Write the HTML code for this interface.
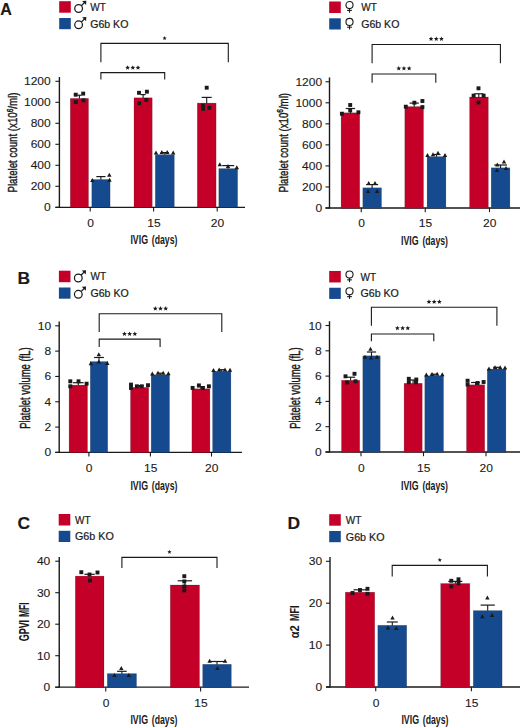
<!DOCTYPE html>
<html><head><meta charset="utf-8"><style>
html,body{margin:0;padding:0;background:#fff;}
body{width:520px;height:728px;overflow:hidden;}
svg{display:block;font-family:"Liberation Sans", sans-serif;}
text{fill:#1a1a1a;}
</style></head><body>
<svg width="520" height="728" viewBox="0 0 520 728">
<text x="0.30" y="14.60" font-size="16.4" text-anchor="start" font-weight="bold" textLength="11.6" lengthAdjust="spacingAndGlyphs" stroke="#1a1a1a" stroke-width="0.15" >A</text>
<rect x="59.20" y="1.20" width="11.60" height="11.50" fill="#c40028"/>
<rect x="59.20" y="18.00" width="11.60" height="11.20" fill="#164a8f"/>
<circle cx="78.6" cy="8.5" r="3.85" fill="none" stroke="#1a1a1a" stroke-width="1.25"/>
<line x1="81.30" y1="5.80" x2="85.20" y2="1.90" stroke="#1a1a1a" stroke-width="1.25"/>
<polygon points="86.30,0.80 82.10,1.00 86.10,5.00" fill="#1a1a1a"/>
<circle cx="78.6" cy="24.8" r="3.85" fill="none" stroke="#1a1a1a" stroke-width="1.25"/>
<line x1="81.30" y1="22.10" x2="85.20" y2="18.20" stroke="#1a1a1a" stroke-width="1.25"/>
<polygon points="86.30,17.10 82.10,17.30 86.10,21.30" fill="#1a1a1a"/>
<text x="90.20" y="10.80" font-size="10" text-anchor="start" font-weight="normal" stroke="#1a1a1a" stroke-width="0.2" >WT</text>
<text x="90.20" y="27.60" font-size="10" text-anchor="start" font-weight="normal" textLength="38.2" lengthAdjust="spacingAndGlyphs" stroke="#1a1a1a" stroke-width="0.2" >G6b KO</text>
<line x1="59.40" y1="77.00" x2="59.40" y2="207.80" stroke="#1a1a1a" stroke-width="1.4"/>
<line x1="55.40" y1="207.30" x2="245.00" y2="207.30" stroke="#1a1a1a" stroke-width="1.3"/>
<line x1="55.40" y1="207.30" x2="59.40" y2="207.30" stroke="#1a1a1a" stroke-width="1.1"/>
<text x="50.70" y="211.30" font-size="10" text-anchor="end" font-weight="normal" textLength="6.67" lengthAdjust="spacingAndGlyphs" stroke="#1a1a1a" stroke-width="0.1" >0</text>
<line x1="55.40" y1="186.30" x2="59.40" y2="186.30" stroke="#1a1a1a" stroke-width="1.1"/>
<text x="50.70" y="190.30" font-size="10" text-anchor="end" font-weight="normal" textLength="20.02" lengthAdjust="spacingAndGlyphs" stroke="#1a1a1a" stroke-width="0.1" >200</text>
<line x1="55.40" y1="165.30" x2="59.40" y2="165.30" stroke="#1a1a1a" stroke-width="1.1"/>
<text x="50.70" y="169.30" font-size="10" text-anchor="end" font-weight="normal" textLength="20.02" lengthAdjust="spacingAndGlyphs" stroke="#1a1a1a" stroke-width="0.1" >400</text>
<line x1="55.40" y1="144.30" x2="59.40" y2="144.30" stroke="#1a1a1a" stroke-width="1.1"/>
<text x="50.70" y="148.30" font-size="10" text-anchor="end" font-weight="normal" textLength="20.02" lengthAdjust="spacingAndGlyphs" stroke="#1a1a1a" stroke-width="0.1" >600</text>
<line x1="55.40" y1="123.30" x2="59.40" y2="123.30" stroke="#1a1a1a" stroke-width="1.1"/>
<text x="50.70" y="127.30" font-size="10" text-anchor="end" font-weight="normal" textLength="20.02" lengthAdjust="spacingAndGlyphs" stroke="#1a1a1a" stroke-width="0.1" >800</text>
<line x1="55.40" y1="102.30" x2="59.40" y2="102.30" stroke="#1a1a1a" stroke-width="1.1"/>
<text x="50.70" y="106.30" font-size="10" text-anchor="end" font-weight="normal" textLength="26.69" lengthAdjust="spacingAndGlyphs" stroke="#1a1a1a" stroke-width="0.1" >1000</text>
<line x1="55.40" y1="81.30" x2="59.40" y2="81.30" stroke="#1a1a1a" stroke-width="1.1"/>
<text x="50.70" y="85.30" font-size="10" text-anchor="end" font-weight="normal" textLength="26.69" lengthAdjust="spacingAndGlyphs" stroke="#1a1a1a" stroke-width="0.1" >1200</text>
<line x1="90.20" y1="207.30" x2="90.20" y2="211.50" stroke="#1a1a1a" stroke-width="1.1"/>
<text x="90.50" y="226.90" font-size="10" text-anchor="middle" font-weight="normal" textLength="6.67" lengthAdjust="spacingAndGlyphs" stroke="#1a1a1a" stroke-width="0.1" >0</text>
<line x1="153.60" y1="207.30" x2="153.60" y2="211.50" stroke="#1a1a1a" stroke-width="1.1"/>
<text x="153.90" y="226.90" font-size="10" text-anchor="middle" font-weight="normal" textLength="13.34" lengthAdjust="spacingAndGlyphs" stroke="#1a1a1a" stroke-width="0.1" >15</text>
<line x1="217.20" y1="207.30" x2="217.20" y2="211.50" stroke="#1a1a1a" stroke-width="1.1"/>
<text x="217.50" y="226.90" font-size="10" text-anchor="middle" font-weight="normal" textLength="13.34" lengthAdjust="spacingAndGlyphs" stroke="#1a1a1a" stroke-width="0.1" >20</text>
<rect x="70.30" y="98.40" width="18.20" height="109.20" fill="#c40028" stroke="#000" stroke-opacity="0.25" stroke-width="0.6"/>
<rect x="91.80" y="179.50" width="18.30" height="28.10" fill="#164a8f" stroke="#000" stroke-opacity="0.25" stroke-width="0.6"/>
<rect x="134.00" y="97.80" width="18.20" height="109.80" fill="#c40028" stroke="#000" stroke-opacity="0.25" stroke-width="0.6"/>
<rect x="155.30" y="154.60" width="19.00" height="53.00" fill="#164a8f" stroke="#000" stroke-opacity="0.25" stroke-width="0.6"/>
<rect x="197.30" y="103.10" width="18.80" height="104.50" fill="#c40028" stroke="#000" stroke-opacity="0.25" stroke-width="0.6"/>
<rect x="218.80" y="168.60" width="18.80" height="39.00" fill="#164a8f" stroke="#000" stroke-opacity="0.25" stroke-width="0.6"/>
<text transform="translate(16.90,142.50) rotate(-90)" x="0" y="0" font-size="12.5" font-weight="normal" text-anchor="middle" textLength="100.00" lengthAdjust="spacingAndGlyphs" stroke="#1a1a1a" stroke-width="0.4">Platelet count (x10<tspan font-size="8.5" dy="-4.2">6</tspan><tspan dy="4.2">/ml)</tspan></text>
<text x="130.40" y="244.20" font-size="13.3" text-anchor="start" font-weight="bold" textLength="17.6" lengthAdjust="spacingAndGlyphs" >IVIG</text>
<text x="151.80" y="244.20" font-size="13.3" text-anchor="start" font-weight="bold" textLength="25.6" lengthAdjust="spacingAndGlyphs" >(days)</text>
<polyline points="100.9,62.3 100.9,43.4 228.3,43.4 228.3,62.3" fill="none" stroke="#1a1a1a" stroke-width="1.1"/>
<polygon points="164.60,36.10 165.18,37.50 166.69,37.62 165.54,38.61 165.89,40.08 164.60,39.29 163.31,40.08 163.66,38.61 162.51,37.62 164.02,37.50" fill="#1a1a1a"/>
<polyline points="100.9,79.6 100.9,72.6 164.7,72.6 164.7,79.6" fill="none" stroke="#1a1a1a" stroke-width="1.1"/>
<polygon points="127.60,65.20 128.26,66.79 129.98,66.93 128.67,68.05 129.07,69.72 127.60,68.83 126.13,69.72 126.53,68.05 125.22,66.93 126.94,66.79" fill="#1a1a1a"/>
<polygon points="132.80,65.20 133.46,66.79 135.18,66.93 133.87,68.05 134.27,69.72 132.80,68.83 131.33,69.72 131.73,68.05 130.42,66.93 132.14,66.79" fill="#1a1a1a"/>
<polygon points="138.00,65.20 138.66,66.79 140.38,66.93 139.07,68.05 139.47,69.72 138.00,68.83 136.53,69.72 136.93,68.05 135.62,66.93 137.34,66.79" fill="#1a1a1a"/>
<rect x="329.20" y="1.50" width="11.60" height="11.50" fill="#c40028"/>
<rect x="329.20" y="18.30" width="11.60" height="11.20" fill="#164a8f"/>
<circle cx="349.5" cy="5.1" r="3.55" fill="none" stroke="#1a1a1a" stroke-width="1.1"/>
<line x1="349.50" y1="8.60" x2="349.50" y2="12.70" stroke="#1a1a1a" stroke-width="1.1"/>
<line x1="347.10" y1="10.40" x2="351.90" y2="10.40" stroke="#1a1a1a" stroke-width="1.1"/>
<circle cx="349.5" cy="21.9" r="3.55" fill="none" stroke="#1a1a1a" stroke-width="1.1"/>
<line x1="349.50" y1="25.40" x2="349.50" y2="29.50" stroke="#1a1a1a" stroke-width="1.1"/>
<line x1="347.10" y1="27.20" x2="351.90" y2="27.20" stroke="#1a1a1a" stroke-width="1.1"/>
<text x="361.20" y="11.10" font-size="10" text-anchor="start" font-weight="normal" stroke="#1a1a1a" stroke-width="0.2" >WT</text>
<text x="361.20" y="27.90" font-size="10" text-anchor="start" font-weight="normal" textLength="38.2" lengthAdjust="spacingAndGlyphs" stroke="#1a1a1a" stroke-width="0.2" >G6b KO</text>
<line x1="329.50" y1="77.46" x2="329.50" y2="208.50" stroke="#1a1a1a" stroke-width="1.4"/>
<line x1="325.50" y1="208.00" x2="520.00" y2="208.00" stroke="#1a1a1a" stroke-width="1.3"/>
<line x1="325.50" y1="208.00" x2="329.50" y2="208.00" stroke="#1a1a1a" stroke-width="1.1"/>
<text x="322.10" y="212.00" font-size="10" text-anchor="end" font-weight="normal" textLength="6.67" lengthAdjust="spacingAndGlyphs" stroke="#1a1a1a" stroke-width="0.1" >0</text>
<line x1="325.50" y1="186.96" x2="329.50" y2="186.96" stroke="#1a1a1a" stroke-width="1.1"/>
<text x="322.10" y="190.96" font-size="10" text-anchor="end" font-weight="normal" textLength="20.02" lengthAdjust="spacingAndGlyphs" stroke="#1a1a1a" stroke-width="0.1" >200</text>
<line x1="325.50" y1="165.92" x2="329.50" y2="165.92" stroke="#1a1a1a" stroke-width="1.1"/>
<text x="322.10" y="169.92" font-size="10" text-anchor="end" font-weight="normal" textLength="20.02" lengthAdjust="spacingAndGlyphs" stroke="#1a1a1a" stroke-width="0.1" >400</text>
<line x1="325.50" y1="144.88" x2="329.50" y2="144.88" stroke="#1a1a1a" stroke-width="1.1"/>
<text x="322.10" y="148.88" font-size="10" text-anchor="end" font-weight="normal" textLength="20.02" lengthAdjust="spacingAndGlyphs" stroke="#1a1a1a" stroke-width="0.1" >600</text>
<line x1="325.50" y1="123.84" x2="329.50" y2="123.84" stroke="#1a1a1a" stroke-width="1.1"/>
<text x="322.10" y="127.84" font-size="10" text-anchor="end" font-weight="normal" textLength="20.02" lengthAdjust="spacingAndGlyphs" stroke="#1a1a1a" stroke-width="0.1" >800</text>
<line x1="325.50" y1="102.80" x2="329.50" y2="102.80" stroke="#1a1a1a" stroke-width="1.1"/>
<text x="322.10" y="106.80" font-size="10" text-anchor="end" font-weight="normal" textLength="26.69" lengthAdjust="spacingAndGlyphs" stroke="#1a1a1a" stroke-width="0.1" >1000</text>
<line x1="325.50" y1="81.76" x2="329.50" y2="81.76" stroke="#1a1a1a" stroke-width="1.1"/>
<text x="322.10" y="85.76" font-size="10" text-anchor="end" font-weight="normal" textLength="26.69" lengthAdjust="spacingAndGlyphs" stroke="#1a1a1a" stroke-width="0.1" >1200</text>
<line x1="361.25" y1="208.00" x2="361.25" y2="212.20" stroke="#1a1a1a" stroke-width="1.1"/>
<text x="361.55" y="227.10" font-size="10" text-anchor="middle" font-weight="normal" textLength="6.67" lengthAdjust="spacingAndGlyphs" stroke="#1a1a1a" stroke-width="0.1" >0</text>
<line x1="425.25" y1="208.00" x2="425.25" y2="212.20" stroke="#1a1a1a" stroke-width="1.1"/>
<text x="425.55" y="227.10" font-size="10" text-anchor="middle" font-weight="normal" textLength="13.34" lengthAdjust="spacingAndGlyphs" stroke="#1a1a1a" stroke-width="0.1" >15</text>
<line x1="489.50" y1="208.00" x2="489.50" y2="212.20" stroke="#1a1a1a" stroke-width="1.1"/>
<text x="489.80" y="227.10" font-size="10" text-anchor="middle" font-weight="normal" textLength="13.34" lengthAdjust="spacingAndGlyphs" stroke="#1a1a1a" stroke-width="0.1" >20</text>
<rect x="341.10" y="112.80" width="18.60" height="95.50" fill="#c40028" stroke="#000" stroke-opacity="0.25" stroke-width="0.6"/>
<rect x="362.80" y="187.80" width="18.70" height="20.50" fill="#164a8f" stroke="#000" stroke-opacity="0.25" stroke-width="0.6"/>
<rect x="404.80" y="106.60" width="18.70" height="101.70" fill="#c40028" stroke="#000" stroke-opacity="0.25" stroke-width="0.6"/>
<rect x="427.10" y="156.60" width="18.80" height="51.70" fill="#164a8f" stroke="#000" stroke-opacity="0.25" stroke-width="0.6"/>
<rect x="469.60" y="97.00" width="18.70" height="111.30" fill="#c40028" stroke="#000" stroke-opacity="0.25" stroke-width="0.6"/>
<rect x="491.20" y="167.80" width="18.70" height="40.50" fill="#164a8f" stroke="#000" stroke-opacity="0.25" stroke-width="0.6"/>
<text transform="translate(287.60,142.75) rotate(-90)" x="0" y="0" font-size="12.5" font-weight="normal" text-anchor="middle" textLength="99.50" lengthAdjust="spacingAndGlyphs" stroke="#1a1a1a" stroke-width="0.4">Platelet count (x10<tspan font-size="8.5" dy="-4.2">6</tspan><tspan dy="4.2">/ml)</tspan></text>
<text x="401.00" y="245.20" font-size="13.3" text-anchor="start" font-weight="bold" textLength="17.6" lengthAdjust="spacingAndGlyphs" >IVIG</text>
<text x="422.40" y="245.20" font-size="13.3" text-anchor="start" font-weight="bold" textLength="25.6" lengthAdjust="spacingAndGlyphs" >(days)</text>
<polyline points="372.1,63.3 372.1,44.5 500.4,44.5 500.4,63.3" fill="none" stroke="#1a1a1a" stroke-width="1.1"/>
<polygon points="431.05,36.50 431.71,38.09 433.43,38.23 432.12,39.35 432.52,41.02 431.05,40.12 429.58,41.02 429.98,39.35 428.67,38.23 430.39,38.09" fill="#1a1a1a"/>
<polygon points="436.25,36.50 436.91,38.09 438.63,38.23 437.32,39.35 437.72,41.02 436.25,40.12 434.78,41.02 435.18,39.35 433.87,38.23 435.59,38.09" fill="#1a1a1a"/>
<polygon points="441.45,36.50 442.11,38.09 443.83,38.23 442.52,39.35 442.92,41.02 441.45,40.12 439.98,41.02 440.38,39.35 439.07,38.23 440.79,38.09" fill="#1a1a1a"/>
<polyline points="372.1,82.8 372.1,74.0 435.8,74.0 435.8,82.8" fill="none" stroke="#1a1a1a" stroke-width="1.1"/>
<polygon points="398.75,66.00 399.41,67.59 401.13,67.73 399.82,68.85 400.22,70.52 398.75,69.62 397.28,70.52 397.68,68.85 396.37,67.73 398.09,67.59" fill="#1a1a1a"/>
<polygon points="403.95,66.00 404.61,67.59 406.33,67.73 405.02,68.85 405.42,70.52 403.95,69.62 402.48,70.52 402.88,68.85 401.57,67.73 403.29,67.59" fill="#1a1a1a"/>
<polygon points="409.15,66.00 409.81,67.59 411.53,67.73 410.22,68.85 410.62,70.52 409.15,69.62 407.68,70.52 408.08,68.85 406.77,67.73 408.49,67.59" fill="#1a1a1a"/>
<text x="17.60" y="283.80" font-size="16.4" text-anchor="start" font-weight="bold" textLength="12.6" lengthAdjust="spacingAndGlyphs" stroke="#1a1a1a" stroke-width="0.15" >B</text>
<rect x="58.90" y="270.70" width="11.60" height="11.50" fill="#c40028"/>
<rect x="58.90" y="287.50" width="11.60" height="11.20" fill="#164a8f"/>
<circle cx="78.30000000000001" cy="278.0" r="3.85" fill="none" stroke="#1a1a1a" stroke-width="1.25"/>
<line x1="81.00" y1="275.30" x2="84.90" y2="271.40" stroke="#1a1a1a" stroke-width="1.25"/>
<polygon points="86.00,270.30 81.80,270.50 85.80,274.50" fill="#1a1a1a"/>
<circle cx="78.30000000000001" cy="294.3" r="3.85" fill="none" stroke="#1a1a1a" stroke-width="1.25"/>
<line x1="81.00" y1="291.60" x2="84.90" y2="287.70" stroke="#1a1a1a" stroke-width="1.25"/>
<polygon points="86.00,286.60 81.80,286.80 85.80,290.80" fill="#1a1a1a"/>
<text x="90.50" y="280.30" font-size="10" text-anchor="start" font-weight="normal" stroke="#1a1a1a" stroke-width="0.2" >WT</text>
<text x="90.50" y="297.10" font-size="10" text-anchor="start" font-weight="normal" textLength="38.2" lengthAdjust="spacingAndGlyphs" stroke="#1a1a1a" stroke-width="0.2" >G6b KO</text>
<line x1="59.20" y1="321.50" x2="59.20" y2="452.90" stroke="#1a1a1a" stroke-width="1.4"/>
<line x1="55.20" y1="452.40" x2="242.00" y2="452.40" stroke="#1a1a1a" stroke-width="1.3"/>
<line x1="55.20" y1="452.40" x2="59.20" y2="452.40" stroke="#1a1a1a" stroke-width="1.1"/>
<text x="51.10" y="456.40" font-size="10" text-anchor="end" font-weight="normal" textLength="6.67" lengthAdjust="spacingAndGlyphs" stroke="#1a1a1a" stroke-width="0.1" >0</text>
<line x1="55.20" y1="427.08" x2="59.20" y2="427.08" stroke="#1a1a1a" stroke-width="1.1"/>
<text x="51.10" y="431.08" font-size="10" text-anchor="end" font-weight="normal" textLength="6.67" lengthAdjust="spacingAndGlyphs" stroke="#1a1a1a" stroke-width="0.1" >2</text>
<line x1="55.20" y1="401.76" x2="59.20" y2="401.76" stroke="#1a1a1a" stroke-width="1.1"/>
<text x="51.10" y="405.76" font-size="10" text-anchor="end" font-weight="normal" textLength="6.67" lengthAdjust="spacingAndGlyphs" stroke="#1a1a1a" stroke-width="0.1" >4</text>
<line x1="55.20" y1="376.44" x2="59.20" y2="376.44" stroke="#1a1a1a" stroke-width="1.1"/>
<text x="51.10" y="380.44" font-size="10" text-anchor="end" font-weight="normal" textLength="6.67" lengthAdjust="spacingAndGlyphs" stroke="#1a1a1a" stroke-width="0.1" >6</text>
<line x1="55.20" y1="351.12" x2="59.20" y2="351.12" stroke="#1a1a1a" stroke-width="1.1"/>
<text x="51.10" y="355.12" font-size="10" text-anchor="end" font-weight="normal" textLength="6.67" lengthAdjust="spacingAndGlyphs" stroke="#1a1a1a" stroke-width="0.1" >8</text>
<line x1="55.20" y1="325.80" x2="59.20" y2="325.80" stroke="#1a1a1a" stroke-width="1.1"/>
<text x="51.10" y="329.80" font-size="10" text-anchor="end" font-weight="normal" textLength="13.34" lengthAdjust="spacingAndGlyphs" stroke="#1a1a1a" stroke-width="0.1" >10</text>
<line x1="88.90" y1="452.40" x2="88.90" y2="456.60" stroke="#1a1a1a" stroke-width="1.1"/>
<text x="89.20" y="471.60" font-size="10" text-anchor="middle" font-weight="normal" textLength="6.67" lengthAdjust="spacingAndGlyphs" stroke="#1a1a1a" stroke-width="0.1" >0</text>
<line x1="150.40" y1="452.40" x2="150.40" y2="456.60" stroke="#1a1a1a" stroke-width="1.1"/>
<text x="150.70" y="471.60" font-size="10" text-anchor="middle" font-weight="normal" textLength="13.34" lengthAdjust="spacingAndGlyphs" stroke="#1a1a1a" stroke-width="0.1" >15</text>
<line x1="211.50" y1="452.40" x2="211.50" y2="456.60" stroke="#1a1a1a" stroke-width="1.1"/>
<text x="211.80" y="471.60" font-size="10" text-anchor="middle" font-weight="normal" textLength="13.34" lengthAdjust="spacingAndGlyphs" stroke="#1a1a1a" stroke-width="0.1" >20</text>
<rect x="69.10" y="385.10" width="18.40" height="67.60" fill="#c40028" stroke="#000" stroke-opacity="0.25" stroke-width="0.6"/>
<rect x="90.30" y="361.60" width="17.40" height="91.10" fill="#164a8f" stroke="#000" stroke-opacity="0.25" stroke-width="0.6"/>
<rect x="130.50" y="387.40" width="18.20" height="65.30" fill="#c40028" stroke="#000" stroke-opacity="0.25" stroke-width="0.6"/>
<rect x="151.20" y="374.80" width="18.30" height="77.90" fill="#164a8f" stroke="#000" stroke-opacity="0.25" stroke-width="0.6"/>
<rect x="191.90" y="388.80" width="18.00" height="63.90" fill="#c40028" stroke="#000" stroke-opacity="0.25" stroke-width="0.6"/>
<rect x="212.60" y="371.30" width="18.30" height="81.40" fill="#164a8f" stroke="#000" stroke-opacity="0.25" stroke-width="0.6"/>
<text transform="translate(30.20,388.10) rotate(-90)" x="0" y="0" font-size="13.8" font-weight="normal" text-anchor="middle" textLength="81.40" lengthAdjust="spacingAndGlyphs" stroke="#1a1a1a" stroke-width="0.45">Platelet volume (fL)</text>
<text x="130.40" y="489.60" font-size="13.3" text-anchor="start" font-weight="bold" textLength="17.6" lengthAdjust="spacingAndGlyphs" >IVIG</text>
<text x="151.80" y="489.60" font-size="13.3" text-anchor="start" font-weight="bold" textLength="25.6" lengthAdjust="spacingAndGlyphs" >(days)</text>
<polyline points="99.2,331.9 99.2,313.7 221.8,313.7 221.8,331.9" fill="none" stroke="#1a1a1a" stroke-width="1.1"/>
<polygon points="155.30,306.10 155.96,307.69 157.68,307.83 156.37,308.95 156.77,310.62 155.30,309.73 153.83,310.62 154.23,308.95 152.92,307.83 154.64,307.69" fill="#1a1a1a"/>
<polygon points="160.50,306.10 161.16,307.69 162.88,307.83 161.57,308.95 161.97,310.62 160.50,309.73 159.03,310.62 159.43,308.95 158.12,307.83 159.84,307.69" fill="#1a1a1a"/>
<polygon points="165.70,306.10 166.36,307.69 168.08,307.83 166.77,308.95 167.17,310.62 165.70,309.73 164.23,310.62 164.63,308.95 163.32,307.83 165.04,307.69" fill="#1a1a1a"/>
<polyline points="99.2,347.0 99.2,339.1 160.1,339.1 160.1,347.0" fill="none" stroke="#1a1a1a" stroke-width="1.1"/>
<polygon points="124.45,331.50 125.11,333.09 126.83,333.23 125.52,334.35 125.92,336.02 124.45,335.12 122.98,336.02 123.38,334.35 122.07,333.23 123.79,333.09" fill="#1a1a1a"/>
<polygon points="129.65,331.50 130.31,333.09 132.03,333.23 130.72,334.35 131.12,336.02 129.65,335.12 128.18,336.02 128.58,334.35 127.27,333.23 128.99,333.09" fill="#1a1a1a"/>
<polygon points="134.85,331.50 135.51,333.09 137.23,333.23 135.92,334.35 136.32,336.02 134.85,335.12 133.38,336.02 133.78,334.35 132.47,333.23 134.19,333.09" fill="#1a1a1a"/>
<rect x="329.20" y="270.95" width="11.60" height="11.50" fill="#c40028"/>
<rect x="329.20" y="287.75" width="11.60" height="11.20" fill="#164a8f"/>
<circle cx="349.5" cy="274.55" r="3.55" fill="none" stroke="#1a1a1a" stroke-width="1.1"/>
<line x1="349.50" y1="278.05" x2="349.50" y2="282.15" stroke="#1a1a1a" stroke-width="1.1"/>
<line x1="347.10" y1="279.85" x2="351.90" y2="279.85" stroke="#1a1a1a" stroke-width="1.1"/>
<circle cx="349.5" cy="291.35" r="3.55" fill="none" stroke="#1a1a1a" stroke-width="1.1"/>
<line x1="349.50" y1="294.85" x2="349.50" y2="298.95" stroke="#1a1a1a" stroke-width="1.1"/>
<line x1="347.10" y1="296.65" x2="351.90" y2="296.65" stroke="#1a1a1a" stroke-width="1.1"/>
<text x="360.50" y="280.55" font-size="10" text-anchor="start" font-weight="normal" stroke="#1a1a1a" stroke-width="0.2" >WT</text>
<text x="360.50" y="297.35" font-size="10" text-anchor="start" font-weight="normal" textLength="38.4" lengthAdjust="spacingAndGlyphs" stroke="#1a1a1a" stroke-width="0.2" >G6b KO</text>
<line x1="329.50" y1="321.20" x2="329.50" y2="452.50" stroke="#1a1a1a" stroke-width="1.4"/>
<line x1="325.50" y1="452.00" x2="520.00" y2="452.00" stroke="#1a1a1a" stroke-width="1.3"/>
<line x1="325.50" y1="452.00" x2="329.50" y2="452.00" stroke="#1a1a1a" stroke-width="1.1"/>
<text x="321.80" y="456.00" font-size="10" text-anchor="end" font-weight="normal" textLength="6.67" lengthAdjust="spacingAndGlyphs" stroke="#1a1a1a" stroke-width="0.1" >0</text>
<line x1="325.50" y1="426.70" x2="329.50" y2="426.70" stroke="#1a1a1a" stroke-width="1.1"/>
<text x="321.80" y="430.70" font-size="10" text-anchor="end" font-weight="normal" textLength="6.67" lengthAdjust="spacingAndGlyphs" stroke="#1a1a1a" stroke-width="0.1" >2</text>
<line x1="325.50" y1="401.40" x2="329.50" y2="401.40" stroke="#1a1a1a" stroke-width="1.1"/>
<text x="321.80" y="405.40" font-size="10" text-anchor="end" font-weight="normal" textLength="6.67" lengthAdjust="spacingAndGlyphs" stroke="#1a1a1a" stroke-width="0.1" >4</text>
<line x1="325.50" y1="376.10" x2="329.50" y2="376.10" stroke="#1a1a1a" stroke-width="1.1"/>
<text x="321.80" y="380.10" font-size="10" text-anchor="end" font-weight="normal" textLength="6.67" lengthAdjust="spacingAndGlyphs" stroke="#1a1a1a" stroke-width="0.1" >6</text>
<line x1="325.50" y1="350.80" x2="329.50" y2="350.80" stroke="#1a1a1a" stroke-width="1.1"/>
<text x="321.80" y="354.80" font-size="10" text-anchor="end" font-weight="normal" textLength="6.67" lengthAdjust="spacingAndGlyphs" stroke="#1a1a1a" stroke-width="0.1" >8</text>
<line x1="325.50" y1="325.50" x2="329.50" y2="325.50" stroke="#1a1a1a" stroke-width="1.1"/>
<text x="321.80" y="329.50" font-size="10" text-anchor="end" font-weight="normal" textLength="13.34" lengthAdjust="spacingAndGlyphs" stroke="#1a1a1a" stroke-width="0.1" >10</text>
<line x1="361.00" y1="452.00" x2="361.00" y2="456.20" stroke="#1a1a1a" stroke-width="1.1"/>
<text x="361.30" y="471.60" font-size="10" text-anchor="middle" font-weight="normal" textLength="6.67" lengthAdjust="spacingAndGlyphs" stroke="#1a1a1a" stroke-width="0.1" >0</text>
<line x1="423.50" y1="452.00" x2="423.50" y2="456.20" stroke="#1a1a1a" stroke-width="1.1"/>
<text x="423.80" y="471.60" font-size="10" text-anchor="middle" font-weight="normal" textLength="13.34" lengthAdjust="spacingAndGlyphs" stroke="#1a1a1a" stroke-width="0.1" >15</text>
<line x1="486.00" y1="452.00" x2="486.00" y2="456.20" stroke="#1a1a1a" stroke-width="1.1"/>
<text x="486.30" y="471.60" font-size="10" text-anchor="middle" font-weight="normal" textLength="13.34" lengthAdjust="spacingAndGlyphs" stroke="#1a1a1a" stroke-width="0.1" >20</text>
<rect x="341.50" y="380.30" width="18.20" height="72.00" fill="#c40028" stroke="#000" stroke-opacity="0.25" stroke-width="0.6"/>
<rect x="362.80" y="355.80" width="17.40" height="96.50" fill="#164a8f" stroke="#000" stroke-opacity="0.25" stroke-width="0.6"/>
<rect x="404.10" y="383.30" width="18.10" height="69.00" fill="#c40028" stroke="#000" stroke-opacity="0.25" stroke-width="0.6"/>
<rect x="424.80" y="375.80" width="18.70" height="76.50" fill="#164a8f" stroke="#000" stroke-opacity="0.25" stroke-width="0.6"/>
<rect x="466.50" y="384.80" width="18.20" height="67.50" fill="#c40028" stroke="#000" stroke-opacity="0.25" stroke-width="0.6"/>
<rect x="487.30" y="369.10" width="18.60" height="83.20" fill="#164a8f" stroke="#000" stroke-opacity="0.25" stroke-width="0.6"/>
<text transform="translate(300.20,388.10) rotate(-90)" x="0" y="0" font-size="13.8" font-weight="normal" text-anchor="middle" textLength="81.40" lengthAdjust="spacingAndGlyphs" stroke="#1a1a1a" stroke-width="0.45">Platelet volume (fL)</text>
<text x="401.00" y="489.60" font-size="13.3" text-anchor="start" font-weight="bold" textLength="17.6" lengthAdjust="spacingAndGlyphs" >IVIG</text>
<text x="422.40" y="489.60" font-size="13.3" text-anchor="start" font-weight="bold" textLength="25.6" lengthAdjust="spacingAndGlyphs" >(days)</text>
<polyline points="371.4,325.8 371.4,307.3 496.9,307.3 496.9,325.8" fill="none" stroke="#1a1a1a" stroke-width="1.1"/>
<polygon points="428.95,299.30 429.61,300.89 431.33,301.03 430.02,302.15 430.42,303.82 428.95,302.93 427.48,303.82 427.88,302.15 426.57,301.03 428.29,300.89" fill="#1a1a1a"/>
<polygon points="434.15,299.30 434.81,300.89 436.53,301.03 435.22,302.15 435.62,303.82 434.15,302.93 432.68,303.82 433.08,302.15 431.77,301.03 433.49,300.89" fill="#1a1a1a"/>
<polygon points="439.35,299.30 440.01,300.89 441.73,301.03 440.42,302.15 440.82,303.82 439.35,302.93 437.88,303.82 438.28,302.15 436.97,301.03 438.69,300.89" fill="#1a1a1a"/>
<polyline points="371.4,341.2 371.4,334.0 433.8,334.0 433.8,341.2" fill="none" stroke="#1a1a1a" stroke-width="1.1"/>
<polygon points="397.40,325.70 398.06,327.29 399.78,327.43 398.47,328.55 398.87,330.22 397.40,329.32 395.93,330.22 396.33,328.55 395.02,327.43 396.74,327.29" fill="#1a1a1a"/>
<polygon points="402.60,325.70 403.26,327.29 404.98,327.43 403.67,328.55 404.07,330.22 402.60,329.32 401.13,330.22 401.53,328.55 400.22,327.43 401.94,327.29" fill="#1a1a1a"/>
<polygon points="407.80,325.70 408.46,327.29 410.18,327.43 408.87,328.55 409.27,330.22 407.80,329.32 406.33,330.22 406.73,328.55 405.42,327.43 407.14,327.29" fill="#1a1a1a"/>
<text x="17.60" y="529.30" font-size="16.4" text-anchor="start" font-weight="bold" textLength="12.6" lengthAdjust="spacingAndGlyphs" stroke="#1a1a1a" stroke-width="0.15" >C</text>
<rect x="58.70" y="514.00" width="11.60" height="11.50" fill="#c40028"/>
<rect x="58.70" y="530.80" width="11.60" height="11.20" fill="#164a8f"/>
<text x="75.00" y="523.60" font-size="10" text-anchor="start" font-weight="normal" stroke="#1a1a1a" stroke-width="0.2" >WT</text>
<text x="75.00" y="540.40" font-size="10" text-anchor="start" font-weight="normal" textLength="38.8" lengthAdjust="spacingAndGlyphs" stroke="#1a1a1a" stroke-width="0.2" >G6b KO</text>
<line x1="59.25" y1="556.90" x2="59.25" y2="687.70" stroke="#1a1a1a" stroke-width="1.4"/>
<line x1="55.25" y1="687.20" x2="249.00" y2="687.20" stroke="#1a1a1a" stroke-width="1.3"/>
<line x1="55.25" y1="687.20" x2="59.25" y2="687.20" stroke="#1a1a1a" stroke-width="1.1"/>
<text x="50.30" y="691.20" font-size="10" text-anchor="end" font-weight="normal" textLength="6.67" lengthAdjust="spacingAndGlyphs" stroke="#1a1a1a" stroke-width="0.1" >0</text>
<line x1="55.25" y1="655.70" x2="59.25" y2="655.70" stroke="#1a1a1a" stroke-width="1.1"/>
<text x="50.30" y="659.70" font-size="10" text-anchor="end" font-weight="normal" textLength="13.34" lengthAdjust="spacingAndGlyphs" stroke="#1a1a1a" stroke-width="0.1" >10</text>
<line x1="55.25" y1="624.20" x2="59.25" y2="624.20" stroke="#1a1a1a" stroke-width="1.1"/>
<text x="50.30" y="628.20" font-size="10" text-anchor="end" font-weight="normal" textLength="13.34" lengthAdjust="spacingAndGlyphs" stroke="#1a1a1a" stroke-width="0.1" >20</text>
<line x1="55.25" y1="592.70" x2="59.25" y2="592.70" stroke="#1a1a1a" stroke-width="1.1"/>
<text x="50.30" y="596.70" font-size="10" text-anchor="end" font-weight="normal" textLength="13.34" lengthAdjust="spacingAndGlyphs" stroke="#1a1a1a" stroke-width="0.1" >30</text>
<line x1="55.25" y1="561.20" x2="59.25" y2="561.20" stroke="#1a1a1a" stroke-width="1.1"/>
<text x="50.30" y="565.20" font-size="10" text-anchor="end" font-weight="normal" textLength="13.34" lengthAdjust="spacingAndGlyphs" stroke="#1a1a1a" stroke-width="0.1" >40</text>
<line x1="105.75" y1="687.20" x2="105.75" y2="691.40" stroke="#1a1a1a" stroke-width="1.1"/>
<text x="106.05" y="706.90" font-size="10" text-anchor="middle" font-weight="normal" textLength="6.67" lengthAdjust="spacingAndGlyphs" stroke="#1a1a1a" stroke-width="0.1" >0</text>
<line x1="200.60" y1="687.20" x2="200.60" y2="691.40" stroke="#1a1a1a" stroke-width="1.1"/>
<text x="200.90" y="706.90" font-size="10" text-anchor="middle" font-weight="normal" textLength="13.34" lengthAdjust="spacingAndGlyphs" stroke="#1a1a1a" stroke-width="0.1" >15</text>
<rect x="75.30" y="576.10" width="28.70" height="111.40" fill="#c40028" stroke="#000" stroke-opacity="0.25" stroke-width="0.6"/>
<rect x="107.30" y="673.60" width="29.20" height="13.90" fill="#164a8f" stroke="#000" stroke-opacity="0.25" stroke-width="0.6"/>
<rect x="170.30" y="585.00" width="29.20" height="102.50" fill="#c40028" stroke="#000" stroke-opacity="0.25" stroke-width="0.6"/>
<rect x="202.70" y="664.30" width="28.60" height="23.20" fill="#164a8f" stroke="#000" stroke-opacity="0.25" stroke-width="0.6"/>
<text transform="translate(29.40,630.60) rotate(-90)" x="0" y="0" font-size="13.8" font-weight="bold" text-anchor="middle" textLength="21.40" lengthAdjust="spacingAndGlyphs" stroke="#1a1a1a" stroke-width="0">GPVI</text>
<text transform="translate(29.40,609.65) rotate(-90)" x="0" y="0" font-size="13.8" font-weight="bold" text-anchor="middle" textLength="14.70" lengthAdjust="spacingAndGlyphs" stroke="#1a1a1a" stroke-width="0">MFI</text>
<text x="130.40" y="724.30" font-size="13.3" text-anchor="start" font-weight="bold" textLength="17.6" lengthAdjust="spacingAndGlyphs" >IVIG</text>
<text x="151.80" y="724.30" font-size="13.3" text-anchor="start" font-weight="bold" textLength="25.6" lengthAdjust="spacingAndGlyphs" >(days)</text>
<polyline points="121.9,568.0 121.9,557.4 217.0,557.4 217.0,568.0" fill="none" stroke="#1a1a1a" stroke-width="1.1"/>
<polygon points="169.45,549.80 170.03,551.20 171.54,551.32 170.39,552.31 170.74,553.78 169.45,552.99 168.16,553.78 168.51,552.31 167.36,551.32 168.87,551.20" fill="#1a1a1a"/>
<text x="287.60" y="529.30" font-size="16.4" text-anchor="start" font-weight="bold" textLength="12.6" lengthAdjust="spacingAndGlyphs" stroke="#1a1a1a" stroke-width="0.15" >D</text>
<rect x="329.20" y="514.20" width="11.60" height="11.50" fill="#c40028"/>
<rect x="329.20" y="531.00" width="11.60" height="11.20" fill="#164a8f"/>
<text x="345.80" y="523.80" font-size="10" text-anchor="start" font-weight="normal" stroke="#1a1a1a" stroke-width="0.2" >WT</text>
<text x="345.80" y="540.60" font-size="10" text-anchor="start" font-weight="normal" textLength="38.8" lengthAdjust="spacingAndGlyphs" stroke="#1a1a1a" stroke-width="0.2" >G6b KO</text>
<line x1="330.00" y1="557.00" x2="330.00" y2="687.50" stroke="#1a1a1a" stroke-width="1.4"/>
<line x1="326.00" y1="687.00" x2="520.00" y2="687.00" stroke="#1a1a1a" stroke-width="1.3"/>
<line x1="326.00" y1="687.00" x2="330.00" y2="687.00" stroke="#1a1a1a" stroke-width="1.1"/>
<text x="322.10" y="691.00" font-size="10" text-anchor="end" font-weight="normal" textLength="6.67" lengthAdjust="spacingAndGlyphs" stroke="#1a1a1a" stroke-width="0.1" >0</text>
<line x1="326.00" y1="645.10" x2="330.00" y2="645.10" stroke="#1a1a1a" stroke-width="1.1"/>
<text x="322.10" y="649.10" font-size="10" text-anchor="end" font-weight="normal" textLength="13.34" lengthAdjust="spacingAndGlyphs" stroke="#1a1a1a" stroke-width="0.1" >10</text>
<line x1="326.00" y1="603.20" x2="330.00" y2="603.20" stroke="#1a1a1a" stroke-width="1.1"/>
<text x="322.10" y="607.20" font-size="10" text-anchor="end" font-weight="normal" textLength="13.34" lengthAdjust="spacingAndGlyphs" stroke="#1a1a1a" stroke-width="0.1" >20</text>
<line x1="326.00" y1="561.30" x2="330.00" y2="561.30" stroke="#1a1a1a" stroke-width="1.1"/>
<text x="322.10" y="565.30" font-size="10" text-anchor="end" font-weight="normal" textLength="13.34" lengthAdjust="spacingAndGlyphs" stroke="#1a1a1a" stroke-width="0.1" >30</text>
<line x1="375.75" y1="687.00" x2="375.75" y2="691.20" stroke="#1a1a1a" stroke-width="1.1"/>
<text x="376.05" y="706.90" font-size="10" text-anchor="middle" font-weight="normal" textLength="6.67" lengthAdjust="spacingAndGlyphs" stroke="#1a1a1a" stroke-width="0.1" >0</text>
<line x1="471.40" y1="687.00" x2="471.40" y2="691.20" stroke="#1a1a1a" stroke-width="1.1"/>
<text x="471.70" y="706.90" font-size="10" text-anchor="middle" font-weight="normal" textLength="13.34" lengthAdjust="spacingAndGlyphs" stroke="#1a1a1a" stroke-width="0.1" >15</text>
<rect x="345.30" y="592.20" width="29.40" height="95.10" fill="#c40028" stroke="#000" stroke-opacity="0.25" stroke-width="0.6"/>
<rect x="377.80" y="625.30" width="28.90" height="62.00" fill="#164a8f" stroke="#000" stroke-opacity="0.25" stroke-width="0.6"/>
<rect x="440.70" y="583.50" width="29.10" height="103.80" fill="#c40028" stroke="#000" stroke-opacity="0.25" stroke-width="0.6"/>
<rect x="473.30" y="610.60" width="28.80" height="76.70" fill="#164a8f" stroke="#000" stroke-opacity="0.25" stroke-width="0.6"/>
<text transform="translate(299.30,631.75) rotate(-90)" x="0" y="0" font-size="13.3" font-weight="bold" text-anchor="middle" textLength="13.10" lengthAdjust="spacingAndGlyphs" stroke="#1a1a1a" stroke-width="0">α2</text>
<text transform="translate(299.30,613.30) rotate(-90)" x="0" y="0" font-size="13.3" font-weight="bold" text-anchor="middle" textLength="15.40" lengthAdjust="spacingAndGlyphs" stroke="#1a1a1a" stroke-width="0">MFI</text>
<text x="401.40" y="724.30" font-size="13.3" text-anchor="start" font-weight="bold" textLength="17.6" lengthAdjust="spacingAndGlyphs" >IVIG</text>
<text x="422.80" y="724.30" font-size="13.3" text-anchor="start" font-weight="bold" textLength="25.6" lengthAdjust="spacingAndGlyphs" >(days)</text>
<polyline points="392.2,576.5 392.2,565.4 487.4,565.4 487.4,576.5" fill="none" stroke="#1a1a1a" stroke-width="1.1"/>
<polygon points="439.80,557.80 440.38,559.20 441.89,559.32 440.74,560.31 441.09,561.78 439.80,560.99 438.51,561.78 438.86,560.31 437.71,559.32 439.22,559.20" fill="#1a1a1a"/>
<line x1="79.40" y1="95.20" x2="79.40" y2="98.60" stroke="#1a1a1a" stroke-width="1.1"/>
<line x1="77.20" y1="95.20" x2="81.60" y2="95.20" stroke="#1a1a1a" stroke-width="1.2"/>
<rect x="73.75" y="92.75" width="3.9" height="3.9" fill="#1a1a1a"/>
<rect x="81.25" y="91.65" width="3.9" height="3.9" fill="#1a1a1a"/>
<rect x="73.85" y="100.05" width="3.9" height="3.9" fill="#1a1a1a"/>
<rect x="81.55" y="98.45" width="3.9" height="3.9" fill="#1a1a1a"/>
<line x1="100.90" y1="176.60" x2="100.90" y2="179.70" stroke="#1a1a1a" stroke-width="1.1"/>
<line x1="96.30" y1="176.60" x2="105.50" y2="176.60" stroke="#1a1a1a" stroke-width="1.2"/>
<polygon points="109.30,172.82 107.10,176.78 111.50,176.78" fill="#1a1a1a"/>
<polygon points="109.50,177.82 107.30,181.78 111.70,181.78" fill="#1a1a1a"/>
<polygon points="92.30,178.02 90.10,181.98 94.50,181.98" fill="#1a1a1a"/>
<line x1="143.10" y1="94.60" x2="143.10" y2="98.00" stroke="#1a1a1a" stroke-width="1.1"/>
<line x1="140.60" y1="94.60" x2="145.60" y2="94.60" stroke="#1a1a1a" stroke-width="1.2"/>
<rect x="137.05" y="90.85" width="3.9" height="3.9" fill="#1a1a1a"/>
<rect x="144.95" y="89.75" width="3.9" height="3.9" fill="#1a1a1a"/>
<rect x="137.35" y="101.35" width="3.9" height="3.9" fill="#1a1a1a"/>
<rect x="144.35" y="97.95" width="3.9" height="3.9" fill="#1a1a1a"/>
<line x1="164.80" y1="152.60" x2="164.80" y2="154.80" stroke="#1a1a1a" stroke-width="1.1"/>
<line x1="160.80" y1="152.60" x2="168.80" y2="152.60" stroke="#1a1a1a" stroke-width="1.2"/>
<polygon points="156.00,150.62 153.80,154.58 158.20,154.58" fill="#1a1a1a"/>
<polygon points="161.80,150.02 159.60,153.98 164.00,153.98" fill="#1a1a1a"/>
<polygon points="167.20,150.02 165.00,153.98 169.40,153.98" fill="#1a1a1a"/>
<polygon points="173.20,150.62 171.00,154.58 175.40,154.58" fill="#1a1a1a"/>
<line x1="206.70" y1="97.40" x2="206.70" y2="103.40" stroke="#1a1a1a" stroke-width="1.1"/>
<line x1="201.70" y1="97.40" x2="211.70" y2="97.40" stroke="#1a1a1a" stroke-width="1.2"/>
<rect x="204.75" y="85.75" width="3.9" height="3.9" fill="#1a1a1a"/>
<rect x="201.05" y="103.65" width="3.9" height="3.9" fill="#1a1a1a"/>
<rect x="201.05" y="106.95" width="3.9" height="3.9" fill="#1a1a1a"/>
<rect x="207.45" y="105.85" width="3.9" height="3.9" fill="#1a1a1a"/>
<line x1="228.20" y1="165.60" x2="228.20" y2="168.80" stroke="#1a1a1a" stroke-width="1.1"/>
<line x1="222.20" y1="165.60" x2="234.20" y2="165.60" stroke="#1a1a1a" stroke-width="1.2"/>
<polygon points="219.80,162.32 217.60,166.28 222.00,166.28" fill="#1a1a1a"/>
<polygon points="236.80,165.22 234.60,169.18 239.00,169.18" fill="#1a1a1a"/>
<polygon points="228.00,164.02 225.80,167.98 230.20,167.98" fill="#1a1a1a"/>
<line x1="350.40" y1="108.50" x2="350.40" y2="112.90" stroke="#1a1a1a" stroke-width="1.1"/>
<line x1="345.70" y1="108.50" x2="355.10" y2="108.50" stroke="#1a1a1a" stroke-width="1.2"/>
<rect x="348.25" y="103.05" width="3.9" height="3.9" fill="#1a1a1a"/>
<rect x="339.95" y="111.75" width="3.9" height="3.9" fill="#1a1a1a"/>
<rect x="356.45" y="110.35" width="3.9" height="3.9" fill="#1a1a1a"/>
<rect x="348.25" y="108.45" width="3.9" height="3.9" fill="#1a1a1a"/>
<line x1="372.10" y1="184.60" x2="372.10" y2="188.00" stroke="#1a1a1a" stroke-width="1.1"/>
<line x1="366.10" y1="184.60" x2="378.10" y2="184.60" stroke="#1a1a1a" stroke-width="1.2"/>
<polygon points="368.70,181.02 366.50,184.98 370.90,184.98" fill="#1a1a1a"/>
<polygon points="375.00,181.02 372.80,184.98 377.20,184.98" fill="#1a1a1a"/>
<polygon points="368.00,189.02 365.80,192.98 370.20,192.98" fill="#1a1a1a"/>
<polygon points="377.00,189.02 374.80,192.98 379.20,192.98" fill="#1a1a1a"/>
<line x1="414.20" y1="103.10" x2="414.20" y2="106.80" stroke="#1a1a1a" stroke-width="1.1"/>
<line x1="409.60" y1="103.10" x2="418.80" y2="103.10" stroke="#1a1a1a" stroke-width="1.2"/>
<rect x="403.85" y="104.75" width="3.9" height="3.9" fill="#1a1a1a"/>
<rect x="412.45" y="100.75" width="3.9" height="3.9" fill="#1a1a1a"/>
<rect x="420.45" y="99.05" width="3.9" height="3.9" fill="#1a1a1a"/>
<rect x="420.45" y="105.15" width="3.9" height="3.9" fill="#1a1a1a"/>
<line x1="436.50" y1="154.50" x2="436.50" y2="156.80" stroke="#1a1a1a" stroke-width="1.1"/>
<line x1="432.50" y1="154.50" x2="440.50" y2="154.50" stroke="#1a1a1a" stroke-width="1.2"/>
<polygon points="427.50,153.02 425.30,156.98 429.70,156.98" fill="#1a1a1a"/>
<polygon points="433.00,152.22 430.80,156.18 435.20,156.18" fill="#1a1a1a"/>
<polygon points="438.00,150.82 435.80,154.78 440.20,154.78" fill="#1a1a1a"/>
<polygon points="445.00,153.02 442.80,156.98 447.20,156.98" fill="#1a1a1a"/>
<line x1="478.80" y1="93.80" x2="478.80" y2="97.20" stroke="#1a1a1a" stroke-width="1.1"/>
<line x1="474.30" y1="93.80" x2="483.30" y2="93.80" stroke="#1a1a1a" stroke-width="1.2"/>
<rect x="476.55" y="86.35" width="3.9" height="3.9" fill="#1a1a1a"/>
<rect x="471.65" y="93.65" width="3.9" height="3.9" fill="#1a1a1a"/>
<rect x="481.65" y="93.65" width="3.9" height="3.9" fill="#1a1a1a"/>
<rect x="476.55" y="100.55" width="3.9" height="3.9" fill="#1a1a1a"/>
<line x1="500.60" y1="165.00" x2="500.60" y2="168.00" stroke="#1a1a1a" stroke-width="1.1"/>
<line x1="494.20" y1="165.00" x2="507.00" y2="165.00" stroke="#1a1a1a" stroke-width="1.2"/>
<polygon points="497.30,162.62 495.10,166.58 499.50,166.58" fill="#1a1a1a"/>
<polygon points="504.00,159.42 501.80,163.38 506.20,163.38" fill="#1a1a1a"/>
<polygon points="497.00,168.02 494.80,171.98 499.20,171.98" fill="#1a1a1a"/>
<polygon points="506.00,166.02 503.80,169.98 508.20,169.98" fill="#1a1a1a"/>
<line x1="78.30" y1="382.70" x2="78.30" y2="385.30" stroke="#1a1a1a" stroke-width="1.1"/>
<line x1="72.90" y1="382.70" x2="83.70" y2="382.70" stroke="#1a1a1a" stroke-width="1.2"/>
<rect x="68.35" y="379.35" width="3.9" height="3.9" fill="#1a1a1a"/>
<rect x="76.55" y="379.35" width="3.9" height="3.9" fill="#1a1a1a"/>
<rect x="84.65" y="381.75" width="3.9" height="3.9" fill="#1a1a1a"/>
<rect x="68.35" y="384.35" width="3.9" height="3.9" fill="#1a1a1a"/>
<line x1="99.00" y1="357.50" x2="99.00" y2="361.80" stroke="#1a1a1a" stroke-width="1.1"/>
<line x1="94.10" y1="357.50" x2="103.90" y2="357.50" stroke="#1a1a1a" stroke-width="1.2"/>
<polygon points="98.80,352.32 96.60,356.28 101.00,356.28" fill="#1a1a1a"/>
<polygon points="90.80,361.32 88.60,365.28 93.00,365.28" fill="#1a1a1a"/>
<polygon points="107.30,361.02 105.10,364.98 109.50,364.98" fill="#1a1a1a"/>
<polygon points="98.80,359.52 96.60,363.48 101.00,363.48" fill="#1a1a1a"/>
<line x1="139.60" y1="385.60" x2="139.60" y2="387.60" stroke="#1a1a1a" stroke-width="1.1"/>
<line x1="135.60" y1="385.60" x2="143.60" y2="385.60" stroke="#1a1a1a" stroke-width="1.2"/>
<rect x="129.05" y="382.65" width="3.9" height="3.9" fill="#1a1a1a"/>
<rect x="129.05" y="386.05" width="3.9" height="3.9" fill="#1a1a1a"/>
<rect x="134.95" y="384.35" width="3.9" height="3.9" fill="#1a1a1a"/>
<rect x="139.85" y="384.35" width="3.9" height="3.9" fill="#1a1a1a"/>
<rect x="146.05" y="383.25" width="3.9" height="3.9" fill="#1a1a1a"/>
<line x1="160.30" y1="373.20" x2="160.30" y2="375.00" stroke="#1a1a1a" stroke-width="1.1"/>
<line x1="156.80" y1="373.20" x2="163.80" y2="373.20" stroke="#1a1a1a" stroke-width="1.2"/>
<polygon points="152.30,371.42 150.10,375.38 154.50,375.38" fill="#1a1a1a"/>
<polygon points="158.00,370.82 155.80,374.78 160.20,374.78" fill="#1a1a1a"/>
<polygon points="163.20,370.82 161.00,374.78 165.40,374.78" fill="#1a1a1a"/>
<polygon points="168.40,371.22 166.20,375.18 170.60,375.18" fill="#1a1a1a"/>
<line x1="200.90" y1="386.70" x2="200.90" y2="389.00" stroke="#1a1a1a" stroke-width="1.1"/>
<line x1="196.90" y1="386.70" x2="204.90" y2="386.70" stroke="#1a1a1a" stroke-width="1.2"/>
<rect x="190.65" y="385.95" width="3.9" height="3.9" fill="#1a1a1a"/>
<rect x="196.95" y="383.45" width="3.9" height="3.9" fill="#1a1a1a"/>
<rect x="200.95" y="386.05" width="3.9" height="3.9" fill="#1a1a1a"/>
<rect x="206.95" y="384.35" width="3.9" height="3.9" fill="#1a1a1a"/>
<line x1="221.70" y1="369.70" x2="221.70" y2="371.50" stroke="#1a1a1a" stroke-width="1.1"/>
<line x1="218.20" y1="369.70" x2="225.20" y2="369.70" stroke="#1a1a1a" stroke-width="1.2"/>
<polygon points="213.50,368.02 211.30,371.98 215.70,371.98" fill="#1a1a1a"/>
<polygon points="219.20,367.52 217.00,371.48 221.40,371.48" fill="#1a1a1a"/>
<polygon points="225.00,367.52 222.80,371.48 227.20,371.48" fill="#1a1a1a"/>
<polygon points="230.00,367.72 227.80,371.68 232.20,371.68" fill="#1a1a1a"/>
<line x1="350.60" y1="377.20" x2="350.60" y2="380.50" stroke="#1a1a1a" stroke-width="1.1"/>
<line x1="346.10" y1="377.20" x2="355.10" y2="377.20" stroke="#1a1a1a" stroke-width="1.2"/>
<rect x="343.55" y="374.35" width="3.9" height="3.9" fill="#1a1a1a"/>
<rect x="352.55" y="371.85" width="3.9" height="3.9" fill="#1a1a1a"/>
<rect x="345.05" y="380.55" width="3.9" height="3.9" fill="#1a1a1a"/>
<rect x="353.55" y="379.35" width="3.9" height="3.9" fill="#1a1a1a"/>
<line x1="371.50" y1="352.00" x2="371.50" y2="356.00" stroke="#1a1a1a" stroke-width="1.1"/>
<line x1="366.90" y1="352.00" x2="376.10" y2="352.00" stroke="#1a1a1a" stroke-width="1.2"/>
<polygon points="370.50,346.82 368.30,350.78 372.70,350.78" fill="#1a1a1a"/>
<polygon points="365.00,354.82 362.80,358.78 367.20,358.78" fill="#1a1a1a"/>
<polygon points="377.00,354.82 374.80,358.78 379.20,358.78" fill="#1a1a1a"/>
<polygon points="371.00,355.52 368.80,359.48 373.20,359.48" fill="#1a1a1a"/>
<line x1="413.10" y1="380.00" x2="413.10" y2="383.50" stroke="#1a1a1a" stroke-width="1.1"/>
<line x1="409.10" y1="380.00" x2="417.10" y2="380.00" stroke="#1a1a1a" stroke-width="1.2"/>
<rect x="406.85" y="376.85" width="3.9" height="3.9" fill="#1a1a1a"/>
<rect x="414.35" y="377.55" width="3.9" height="3.9" fill="#1a1a1a"/>
<rect x="406.85" y="380.35" width="3.9" height="3.9" fill="#1a1a1a"/>
<rect x="414.05" y="380.35" width="3.9" height="3.9" fill="#1a1a1a"/>
<line x1="434.10" y1="374.20" x2="434.10" y2="376.00" stroke="#1a1a1a" stroke-width="1.1"/>
<line x1="430.60" y1="374.20" x2="437.60" y2="374.20" stroke="#1a1a1a" stroke-width="1.2"/>
<polygon points="426.30,372.52 424.10,376.48 428.50,376.48" fill="#1a1a1a"/>
<polygon points="432.00,372.02 429.80,375.98 434.20,375.98" fill="#1a1a1a"/>
<polygon points="437.20,371.82 435.00,375.78 439.40,375.78" fill="#1a1a1a"/>
<polygon points="442.30,372.22 440.10,376.18 444.50,376.18" fill="#1a1a1a"/>
<line x1="475.60" y1="382.50" x2="475.60" y2="385.00" stroke="#1a1a1a" stroke-width="1.1"/>
<line x1="471.10" y1="382.50" x2="480.10" y2="382.50" stroke="#1a1a1a" stroke-width="1.2"/>
<rect x="465.65" y="378.75" width="3.9" height="3.9" fill="#1a1a1a"/>
<rect x="465.65" y="382.55" width="3.9" height="3.9" fill="#1a1a1a"/>
<rect x="475.55" y="381.05" width="3.9" height="3.9" fill="#1a1a1a"/>
<rect x="481.65" y="380.05" width="3.9" height="3.9" fill="#1a1a1a"/>
<line x1="496.60" y1="367.30" x2="496.60" y2="369.30" stroke="#1a1a1a" stroke-width="1.1"/>
<line x1="493.10" y1="367.30" x2="500.10" y2="367.30" stroke="#1a1a1a" stroke-width="1.2"/>
<polygon points="489.00,366.62 486.80,370.58 491.20,370.58" fill="#1a1a1a"/>
<polygon points="495.00,365.22 492.80,369.18 497.20,369.18" fill="#1a1a1a"/>
<polygon points="500.20,365.22 498.00,369.18 502.40,369.18" fill="#1a1a1a"/>
<polygon points="505.00,365.62 502.80,369.58 507.20,369.58" fill="#1a1a1a"/>
<line x1="89.60" y1="574.30" x2="89.60" y2="576.30" stroke="#1a1a1a" stroke-width="1.1"/>
<line x1="84.40" y1="574.30" x2="94.80" y2="574.30" stroke="#1a1a1a" stroke-width="1.2"/>
<rect x="79.35" y="570.25" width="3.9" height="3.9" fill="#1a1a1a"/>
<rect x="95.55" y="570.55" width="3.9" height="3.9" fill="#1a1a1a"/>
<rect x="87.55" y="572.55" width="3.9" height="3.9" fill="#1a1a1a"/>
<rect x="88.05" y="578.55" width="3.9" height="3.9" fill="#1a1a1a"/>
<line x1="121.90" y1="671.30" x2="121.90" y2="673.80" stroke="#1a1a1a" stroke-width="1.1"/>
<line x1="117.10" y1="671.30" x2="126.70" y2="671.30" stroke="#1a1a1a" stroke-width="1.2"/>
<polygon points="121.30,666.02 119.10,669.98 123.50,669.98" fill="#1a1a1a"/>
<polygon points="114.50,673.02 112.30,676.98 116.70,676.98" fill="#1a1a1a"/>
<polygon points="128.80,673.02 126.60,676.98 131.00,676.98" fill="#1a1a1a"/>
<line x1="184.90" y1="580.80" x2="184.90" y2="585.20" stroke="#1a1a1a" stroke-width="1.1"/>
<line x1="177.70" y1="580.80" x2="192.10" y2="580.80" stroke="#1a1a1a" stroke-width="1.2"/>
<rect x="182.35" y="574.25" width="3.9" height="3.9" fill="#1a1a1a"/>
<rect x="182.35" y="579.45" width="3.9" height="3.9" fill="#1a1a1a"/>
<rect x="182.35" y="584.55" width="3.9" height="3.9" fill="#1a1a1a"/>
<rect x="182.35" y="588.45" width="3.9" height="3.9" fill="#1a1a1a"/>
<line x1="217.00" y1="661.50" x2="217.00" y2="664.50" stroke="#1a1a1a" stroke-width="1.1"/>
<line x1="209.40" y1="661.50" x2="224.60" y2="661.50" stroke="#1a1a1a" stroke-width="1.2"/>
<polygon points="209.60,658.82 207.40,662.78 211.80,662.78" fill="#1a1a1a"/>
<polygon points="225.10,658.82 222.90,662.78 227.30,662.78" fill="#1a1a1a"/>
<polygon points="217.40,666.02 215.20,669.98 219.60,669.98" fill="#1a1a1a"/>
<line x1="360.00" y1="589.80" x2="360.00" y2="592.40" stroke="#1a1a1a" stroke-width="1.1"/>
<line x1="353.50" y1="589.80" x2="366.50" y2="589.80" stroke="#1a1a1a" stroke-width="1.2"/>
<rect x="350.55" y="591.05" width="3.9" height="3.9" fill="#1a1a1a"/>
<rect x="358.05" y="588.05" width="3.9" height="3.9" fill="#1a1a1a"/>
<rect x="365.55" y="586.85" width="3.9" height="3.9" fill="#1a1a1a"/>
<rect x="365.55" y="591.85" width="3.9" height="3.9" fill="#1a1a1a"/>
<line x1="392.30" y1="622.00" x2="392.30" y2="625.50" stroke="#1a1a1a" stroke-width="1.1"/>
<line x1="386.80" y1="622.00" x2="397.80" y2="622.00" stroke="#1a1a1a" stroke-width="1.2"/>
<polygon points="392.50,615.52 390.30,619.48 394.70,619.48" fill="#1a1a1a"/>
<polygon points="388.00,625.52 385.80,629.48 390.20,629.48" fill="#1a1a1a"/>
<polygon points="396.30,626.02 394.10,629.98 398.50,629.98" fill="#1a1a1a"/>
<line x1="455.30" y1="581.40" x2="455.30" y2="583.70" stroke="#1a1a1a" stroke-width="1.1"/>
<line x1="448.30" y1="581.40" x2="462.30" y2="581.40" stroke="#1a1a1a" stroke-width="1.2"/>
<rect x="449.35" y="578.85" width="3.9" height="3.9" fill="#1a1a1a"/>
<rect x="456.55" y="577.35" width="3.9" height="3.9" fill="#1a1a1a"/>
<rect x="449.35" y="584.55" width="3.9" height="3.9" fill="#1a1a1a"/>
<rect x="456.55" y="581.45" width="3.9" height="3.9" fill="#1a1a1a"/>
<line x1="487.70" y1="605.10" x2="487.70" y2="610.80" stroke="#1a1a1a" stroke-width="1.1"/>
<line x1="480.60" y1="605.10" x2="494.80" y2="605.10" stroke="#1a1a1a" stroke-width="1.2"/>
<polygon points="487.40,595.42 485.20,599.38 489.60,599.38" fill="#1a1a1a"/>
<polygon points="482.30,614.22 480.10,618.18 484.50,618.18" fill="#1a1a1a"/>
<polygon points="492.10,613.02 489.90,616.98 494.30,616.98" fill="#1a1a1a"/>
</svg>
</body></html>
